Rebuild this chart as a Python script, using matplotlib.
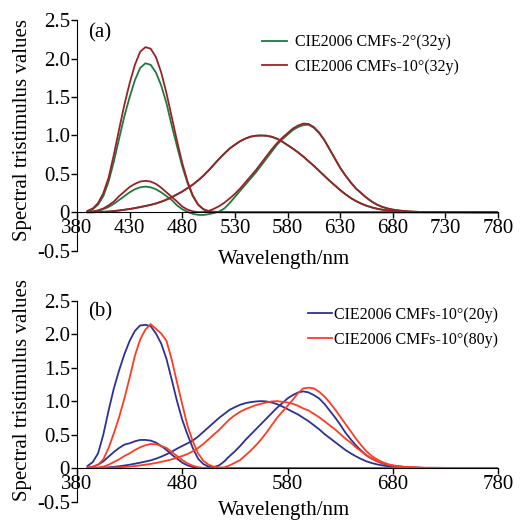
import matplotlib
matplotlib.use('Agg')
import matplotlib.pyplot as plt
from matplotlib.ticker import FixedLocator, FixedFormatter

plt.rcParams['font.family'] = ['Liberation Serif', 'DejaVu Serif']

# wavelength grid (nm): 390..710 every 5 nm, then 780
wl = [390, 395, 400, 405, 410, 415, 420, 425, 430, 435, 440, 445, 450,
      455, 460, 465, 470, 475, 480, 485, 490, 495, 500, 505, 510, 515,
      520, 525, 530, 535, 540, 545, 550, 555, 560, 565, 570, 575, 580,
      585, 590, 595, 600, 605, 610, 615, 620, 625, 630, 635, 640, 645,
      650, 655, 660, 665, 670, 675, 680, 685, 690, 695, 700, 705, 710,
      780]

# (a) CIE2006 CMFs-2deg (32y)
x2_32 = [0.003, 0.008, 0.018, 0.04, 0.07, 0.11, 0.16, 0.21, 0.26, 0.30, 0.325, 0.335, 0.325,
         0.30, 0.26, 0.21, 0.16, 0.09, 0.04, 0.005, -0.02, -0.033, -0.035, -0.025, -0.01, 0.01,
         0.05, 0.12, 0.20, 0.28, 0.36, 0.44, 0.52, 0.61, 0.70, 0.79, 0.88, 0.95, 1.01,
         1.07, 1.11, 1.135, 1.14, 1.10, 1.03, 0.94, 0.82, 0.70, 0.58, 0.48, 0.39, 0.31,
         0.25, 0.19, 0.14, 0.10, 0.07, 0.05, 0.035, 0.025, 0.017, 0.012, 0.008, 0.005, 0.003,
         0.0]
y2_32 = [0.0, 0.001, 0.003, 0.006, 0.01, 0.016, 0.024, 0.033, 0.043, 0.055, 0.068, 0.082, 0.097,
         0.115, 0.138, 0.165, 0.197, 0.233, 0.27, 0.315, 0.36, 0.415, 0.475, 0.545, 0.62, 0.695,
         0.765, 0.83, 0.88, 0.925, 0.96, 0.985, 0.997, 1.0, 0.997, 0.983, 0.958, 0.92, 0.875,
         0.83, 0.78, 0.725, 0.665, 0.605, 0.54, 0.475, 0.41, 0.35, 0.29, 0.235, 0.187, 0.147,
         0.113, 0.086, 0.064, 0.047, 0.034, 0.024, 0.017, 0.012, 0.008, 0.005, 0.004, 0.003, 0.002,
         0.0]
z2_32 = [0.01, 0.04, 0.10, 0.21, 0.40, 0.66, 0.96, 1.25, 1.50, 1.72, 1.88, 1.94, 1.92,
         1.82, 1.65, 1.42, 1.13, 0.86, 0.60, 0.38, 0.21, 0.10, 0.04, 0.015, 0.005, 0.0,
         0.0, 0.0, 0.0, 0.0, 0.0, 0.0, 0.0, 0.0, 0.0, 0.0, 0.0, 0.0, 0.0,
         0.0, 0.0, 0.0, 0.0, 0.0, 0.0, 0.0, 0.0, 0.0, 0.0, 0.0, 0.0, 0.0,
         0.0, 0.0, 0.0, 0.0, 0.0, 0.0, 0.0, 0.0, 0.0, 0.0, 0.0, 0.0, 0.0,
         0.0]

# (a) CIE2006 CMFs-10deg (32y)
x10_32 = [0.005, 0.012, 0.025, 0.05, 0.09, 0.14, 0.21, 0.27, 0.33, 0.37, 0.40, 0.41, 0.40,
          0.37, 0.32, 0.26, 0.20, 0.14, 0.075, 0.035, 0.012, 0.002, 0.004, 0.018, 0.045, 0.08,
          0.125, 0.18, 0.24, 0.31, 0.39, 0.47, 0.55, 0.64, 0.73, 0.82, 0.90, 0.97, 1.03,
          1.09, 1.13, 1.155, 1.15, 1.11, 1.04, 0.94, 0.82, 0.70, 0.58, 0.48, 0.39, 0.31,
          0.25, 0.19, 0.14, 0.10, 0.07, 0.05, 0.035, 0.025, 0.017, 0.012, 0.008, 0.005, 0.003,
          0.0]
y10_32 = [0.0, 0.001, 0.003, 0.006, 0.01, 0.016, 0.024, 0.033, 0.043, 0.055, 0.068, 0.082, 0.097,
          0.115, 0.138, 0.165, 0.197, 0.233, 0.27, 0.315, 0.36, 0.415, 0.475, 0.545, 0.62, 0.695,
          0.765, 0.83, 0.88, 0.925, 0.96, 0.985, 0.997, 1.0, 0.997, 0.983, 0.958, 0.92, 0.875,
          0.83, 0.78, 0.725, 0.665, 0.605, 0.54, 0.475, 0.41, 0.35, 0.29, 0.235, 0.187, 0.147,
          0.113, 0.086, 0.064, 0.047, 0.034, 0.024, 0.017, 0.012, 0.008, 0.005, 0.004, 0.003, 0.002,
          0.0]
z10_32 = [0.02, 0.05, 0.12, 0.25, 0.45, 0.75, 1.08, 1.40, 1.68, 1.92, 2.09, 2.15, 2.13,
          2.02, 1.82, 1.55, 1.24, 0.93, 0.64, 0.40, 0.22, 0.10, 0.04, 0.015, 0.008, 0.005,
          0.003, 0.002, 0.001, 0.0, 0.0, 0.0, 0.0, 0.0, 0.0, 0.0, 0.0, 0.0, 0.0,
          0.0, 0.0, 0.0, 0.0, 0.0, 0.0, 0.0, 0.0, 0.0, 0.0, 0.0, 0.0, 0.0,
          0.0, 0.0, 0.0, 0.0, 0.0, 0.0, 0.0, 0.0, 0.0, 0.0, 0.0, 0.0, 0.0,
          0.0]

# (b) CIE2006 CMFs-10deg (20y)
x10_20 = [0.005, 0.02, 0.05, 0.10, 0.17, 0.24, 0.30, 0.35, 0.37, 0.40, 0.42, 0.42, 0.41,
          0.38, 0.33, 0.27, 0.20, 0.14, 0.08, 0.04, 0.015, 0.003, 0.0, 0.003, 0.015, 0.04,
          0.10, 0.18, 0.25, 0.33, 0.42, 0.50, 0.58, 0.66, 0.74, 0.82, 0.90, 0.97, 1.04,
          1.09, 1.13, 1.145, 1.13, 1.09, 1.04, 0.96, 0.86, 0.76, 0.65, 0.53, 0.43, 0.34,
          0.26, 0.19, 0.14, 0.10, 0.07, 0.05, 0.035, 0.025, 0.017, 0.012, 0.008, 0.005, 0.003,
          0.0]
y10_20 = [0.0, 0.001, 0.003, 0.006, 0.011, 0.018, 0.027, 0.038, 0.05, 0.065, 0.08, 0.097, 0.115,
          0.14, 0.17, 0.205, 0.245, 0.29, 0.33, 0.37, 0.41, 0.47, 0.54, 0.61, 0.68, 0.75,
          0.81, 0.87, 0.91, 0.945, 0.97, 0.985, 0.995, 1.0, 0.995, 0.98, 0.955, 0.92, 0.88,
          0.84, 0.80, 0.75, 0.70, 0.64, 0.58, 0.51, 0.45, 0.39, 0.33, 0.27, 0.22, 0.175,
          0.135, 0.10, 0.075, 0.055, 0.04, 0.028, 0.02, 0.014, 0.01, 0.007, 0.005, 0.003, 0.002,
          0.0]
z10_20 = [0.03, 0.09, 0.22, 0.50, 0.86, 1.19, 1.46, 1.70, 1.90, 2.05, 2.13, 2.14, 2.12,
          2.01, 1.86, 1.63, 1.32, 1.00, 0.72, 0.50, 0.30, 0.14, 0.06, 0.02, 0.008, 0.003,
          0.0, 0.0, 0.0, 0.0, 0.0, 0.0, 0.0, 0.0, 0.0, 0.0, 0.0, 0.0, 0.0,
          0.0, 0.0, 0.0, 0.0, 0.0, 0.0, 0.0, 0.0, 0.0, 0.0, 0.0, 0.0, 0.0,
          0.0, 0.0, 0.0, 0.0, 0.0, 0.0, 0.0, 0.0, 0.0, 0.0, 0.0, 0.0, 0.0,
          0.0]

# (b) CIE2006 CMFs-10deg (80y)
x10_80 = [0.0, 0.003, 0.008, 0.02, 0.05, 0.09, 0.13, 0.18, 0.22, 0.27, 0.31, 0.34, 0.36,
          0.355, 0.33, 0.30, 0.24, 0.18, 0.12, 0.07, 0.035, 0.012, 0.003, 0.0, 0.0, 0.003,
          0.01, 0.04, 0.08, 0.12, 0.19, 0.26, 0.34, 0.43, 0.53, 0.64, 0.75, 0.84, 0.93,
          1.02, 1.12, 1.19, 1.20, 1.19, 1.14, 1.07, 0.98, 0.88, 0.77, 0.66, 0.55, 0.44,
          0.34, 0.25, 0.18, 0.13, 0.09, 0.06, 0.04, 0.03, 0.02, 0.014, 0.01, 0.006, 0.004,
          0.0]
y10_80 = [0.0, 0.0, 0.001, 0.002, 0.004, 0.007, 0.011, 0.016, 0.022, 0.03, 0.04, 0.05, 0.062,
          0.076, 0.093, 0.11, 0.13, 0.155, 0.18, 0.21, 0.25, 0.30, 0.36, 0.43, 0.50, 0.57,
          0.65, 0.73, 0.79, 0.84, 0.88, 0.91, 0.94, 0.96, 0.98, 0.995, 1.0, 0.99, 0.98,
          0.96, 0.93, 0.89, 0.86, 0.81, 0.76, 0.70, 0.64, 0.58, 0.51, 0.44, 0.38, 0.31,
          0.25, 0.19, 0.145, 0.105, 0.075, 0.052, 0.036, 0.025, 0.017, 0.012, 0.008, 0.005, 0.003,
          0.0]
z10_80 = [0.005, 0.02, 0.05, 0.13, 0.30, 0.52, 0.76, 1.04, 1.35, 1.68, 1.92, 2.07, 2.15,
          2.08, 2.01, 1.90, 1.62, 1.28, 0.95, 0.63, 0.40, 0.22, 0.11, 0.05, 0.02, 0.008,
          0.003, 0.0, 0.0, 0.0, 0.0, 0.0, 0.0, 0.0, 0.0, 0.0, 0.0, 0.0, 0.0,
          0.0, 0.0, 0.0, 0.0, 0.0, 0.0, 0.0, 0.0, 0.0, 0.0, 0.0, 0.0, 0.0,
          0.0, 0.0, 0.0, 0.0, 0.0, 0.0, 0.0, 0.0, 0.0, 0.0, 0.0, 0.0, 0.0,
          0.0]

yticks = [-0.5, 0, 0.5, 1.0, 1.5, 2.0, 2.5]
ytick_labels = ['-0.5', '0', '0.5', '1.0', '1.5', '2.0', '2.5']
xticks_a = [380, 430, 480, 530, 580, 630, 680, 730, 780]
xticks_b = [380, 480, 580, 680, 780]


def style_axes(ax, xticks, panel, ylabel_y, xlabel_y):
    ax.set_xlim(380, 780)
    ax.set_ylim(-0.5, 2.5)
    ax.spines['top'].set_visible(False)
    ax.spines['right'].set_visible(False)
    ax.spines['bottom'].set_position(('data', 0))
    ax.xaxis.set_major_locator(FixedLocator(xticks))
    ax.yaxis.set_major_locator(FixedLocator(yticks))
    ax.yaxis.set_major_formatter(FixedFormatter(ytick_labels))
    ax.tick_params(axis='x', direction='out', length=4, width=1, pad=1, labelsize=15)
    ax.tick_params(axis='y', direction='out', length=4, width=1, pad=1, labelsize=15)
    ax.set_xlabel('Wavelength/nm', fontsize=15)
    ax.xaxis.set_label_coords(0.492, xlabel_y)
    ax.xaxis.label.set_va('center')
    ax.set_ylabel('Spectral tristimulus values', fontsize=15)
    ax.yaxis.set_label_coords(-0.13, ylabel_y)
    ax.yaxis.label.set_va('center')
    ax.text(0.026, 0.945, panel, transform=ax.transAxes, fontsize=15, va='center', ha='left')


fig = plt.figure(figsize=(5.25, 5.21), dpi=100)
ax1 = fig.add_axes([0.1467, 0.5188, 0.8019, 0.4423])
ax2 = fig.add_axes([0.1467, 0.0374, 0.8019, 0.3854])

green = '#1f7a3e'
darkred = '#9a2226'
blue = '#2e3194'
orange = '#ff3c1f'
lw = 1.3

for vals in [x2_32, y2_32, z2_32]:
    ax1.plot(wl, vals, color=green, lw=lw)
for vals in [x10_32, y10_32, z10_32]:
    ax1.plot(wl, vals, color=darkred, lw=lw)
ax1.plot([], [], color=green, lw=lw, label='CIE2006 CMFs-2°(32y)')
ax1.plot([], [], color=darkred, lw=lw, label='CIE2006 CMFs-10°(32y)')
style_axes(ax1, xticks_a, '(a)', 0.524, -0.04)
ax1.legend(loc='upper left', bbox_to_anchor=(0.439, 0.94), frameon=False, fontsize=11.5,
           handlelength=1.6, handletextpad=0.5, labelspacing=0.55, borderpad=0, borderaxespad=0)

for vals in [x10_20, y10_20, z10_20]:
    ax2.plot(wl, vals, color=blue, lw=lw)
for vals in [x10_80, y10_80, z10_80]:
    ax2.plot(wl, vals, color=orange, lw=lw)
ax2.plot([], [], color=blue, lw=lw, label='CIE2006 CMFs-10°(20y)')
ax2.plot([], [], color=orange, lw=lw, label='CIE2006 CMFs-10°(80y)')
style_axes(ax2, xticks_b, '(b)', 0.555, -0.047)
ax2.legend(loc='upper left', bbox_to_anchor=(0.549, 0.97), frameon=False, fontsize=11.5,
           handlelength=1.5, handletextpad=0.1, labelspacing=0.55, borderpad=0, borderaxespad=0)

fig.savefig('out.png', dpi=100)
